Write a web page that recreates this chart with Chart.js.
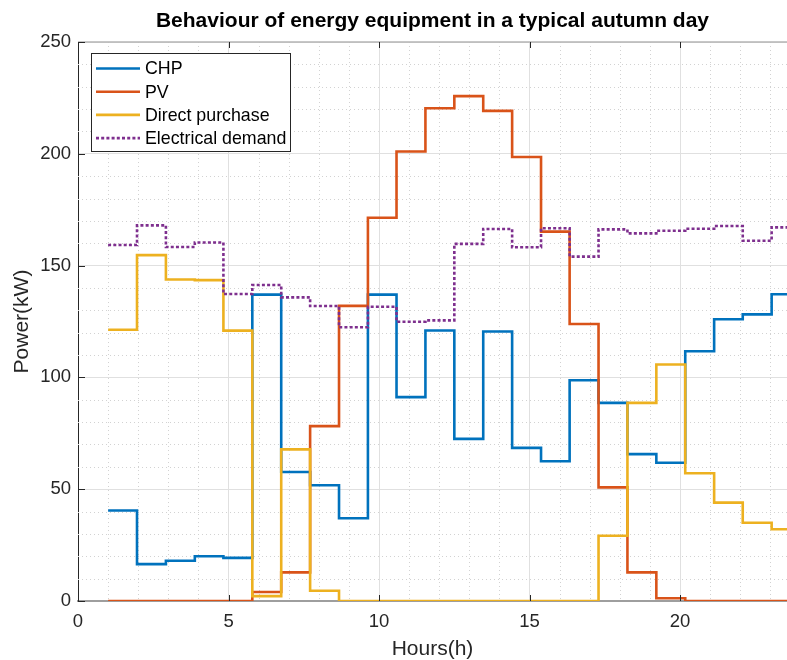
<!DOCTYPE html>
<html>
<head>
<meta charset="utf-8">
<script src="https://cdn.jsdelivr.net/npm/chart.js@4/dist/chart.umd.min.js"></script>
<style>
  html, body { margin: 0; padding: 0; background: #fff; }
  #wrap { width: 787px; height: 660px; }
</style>
</head>
<body>
<div id="wrap"><canvas id="chart" width="787" height="660"></canvas></div>
<script>
// step start times (h) - 24 intervals, last entry closes the final step
const hourStarts = [1, 1.96, 2.92, 3.88, 4.83, 5.79, 6.75, 7.71, 8.67, 9.63, 10.58, 11.54,
                    12.5, 13.46, 14.42, 15.38, 16.33, 17.29, 18.25, 19.21, 20.17, 21.13, 22.08, 23.04, 24];

// power values in kW, one per interval
const chp = [40.5, 16.5, 18, 20, 19.3, 137, 57.7, 51.8, 37, 137, 91.2, 121, 72.5, 120.5,
             68.5, 62.5, 98.7, 88.6, 65.7, 61.8, 111.7, 126, 128.2, 137.2];
const pv = [0, 0, 0, 0, 0, 4, 12.8, 78.2, 132, 171.4, 201, 220.4, 225.8, 219.2,
            198.6, 165.2, 123.9, 50.8, 12.8, 1.2, 0, 0, 0, 0];
const directPurchase = [121.3, 154.7, 143.8, 143.5, 120.9, 2.2, 67.8, 4.6, 0, 0, 0, 0, 0, 0,
                        0, 0, 0, 29.2, 88.6, 105.8, 57.1, 44, 35, 32.1];
const demand = [159.2, 168, 158.3, 160.3, 137.3, 141.3, 135.8, 131.9, 122.4, 131.6, 124.9, 125.5,
                159.7, 166.4, 158.2, 166.7, 154, 166.2, 164.4, 165.6, 166.5, 167.7, 161.1, 167.1];

const xTicks = [0, 5, 10, 15, 20];
const yTicks = [0, 50, 100, 150, 200, 250];

const FONT = 'Arial, "Liberation Sans", Helvetica, sans-serif';
const TXT = '#262626';

// stairs: value i is held from hourStarts[i] to hourStarts[i+1]
function stairs(vals) {
    return hourStarts.map((x, i) => ({ x: x, y: vals[Math.min(i, vals.length - 1)] }));
}

// minor dotted grid, top border, inward ticks and the legend box
const gridPlugin = {
    id: 'minorGrid',
    beforeDatasetsDraw(chart) {
        const { ctx, chartArea: a, scales: { x, y } } = chart;
        ctx.save();
        ctx.strokeStyle = '#d2d2d2';
        ctx.lineWidth = 1;
        ctx.setLineDash([1, 3]);
        for (let v = 1; v < x.max; v++) {
            if (v % 5 === 0) continue;
            const px = Math.round(x.getPixelForValue(v)) + 0.5;
            ctx.beginPath(); ctx.moveTo(px, a.top); ctx.lineTo(px, a.bottom); ctx.stroke();
        }
        for (let v = 10; v < 250; v += 10) {
            if (v % 50 === 0) continue;
            const py = Math.round(y.getPixelForValue(v)) + 0.5;
            ctx.beginPath(); ctx.moveTo(a.left, py); ctx.lineTo(a.right, py); ctx.stroke();
        }
        ctx.setLineDash([]);
        ctx.strokeStyle = '#b4b4b4';
        ctx.lineWidth = 1.5;
        ctx.beginPath(); ctx.moveTo(a.left, a.top); ctx.lineTo(a.right, a.top); ctx.stroke();
        ctx.restore();
    },
    afterDraw(chart) {
        const { ctx, chartArea: a, scales: { x, y } } = chart;
        ctx.save();
        ctx.strokeStyle = TXT;
        ctx.lineWidth = 1;
        xTicks.forEach(v => {
            const px = Math.round(x.getPixelForValue(v)) + 0.5;
            ctx.beginPath(); ctx.moveTo(px, a.bottom); ctx.lineTo(px, a.bottom - 6); ctx.stroke();
            ctx.beginPath(); ctx.moveTo(px, a.top); ctx.lineTo(px, a.top + 6); ctx.stroke();
        });
        yTicks.forEach(v => {
            const py = Math.round(y.getPixelForValue(v)) + 0.5;
            ctx.beginPath(); ctx.moveTo(a.left, py); ctx.lineTo(a.left + 7, py); ctx.stroke();
        });

        // legend
        const bx = 91.5, by = 53.5, bw = 199, bh = 98;
        ctx.fillStyle = '#fff';
        ctx.fillRect(bx, by, bw, bh);
        ctx.strokeStyle = '#262626';
        ctx.lineWidth = 1;
        ctx.strokeRect(bx, by, bw, bh);
        ctx.font = '17.8px ' + FONT;
        ctx.textBaseline = 'middle';
        ctx.fillStyle = '#000';
        chart.data.datasets.forEach((ds, i) => {
            const ry = 68.5 + i * 23.2;
            ctx.strokeStyle = ds.borderColor;
            ctx.lineWidth = ds.borderWidth;
            ctx.setLineDash(ds.borderDash || []);
            ctx.beginPath(); ctx.moveTo(96, ry); ctx.lineTo(140, ry); ctx.stroke();
            ctx.setLineDash([]);
            ctx.fillText(ds.label, 145, ry + 1);
        });
        ctx.restore();
    }
};

const lineBase = { stepped: 'before', pointRadius: 0, borderWidth: 2.6, fill: false, tension: 0 };

new Chart(document.getElementById('chart'), {
    type: 'line',
    data: {
        datasets: [
            Object.assign({ label: 'CHP', data: stairs(chp), borderColor: '#0072BD', order: 4 }, lineBase),
            Object.assign({ label: 'PV', data: stairs(pv), borderColor: '#D95319', order: 3 }, lineBase),
            Object.assign({ label: 'Direct purchase', data: stairs(directPurchase), borderColor: '#EDB120', order: 2 }, lineBase),
            Object.assign({ label: 'Electrical demand', data: stairs(demand), borderColor: '#7E2F8E', order: 1, borderDash: [3, 2.2] }, lineBase)
        ]
    },
    options: {
        responsive: false,
        animation: false,
        events: [],
        layout: { padding: 0 },
        plugins: {
            legend: { display: false },
            tooltip: { enabled: false },
            title: {
                display: true,
                text: 'Behaviour of energy equipment in a typical autumn day',
                fullSize: false,
                color: '#000',
                font: { family: FONT, size: 21, weight: 'bold', lineHeight: 1.2 },
                padding: { top: 9, bottom: 7.8 }
            }
        },
        scales: {
            x: {
                type: 'linear',
                min: 0,
                max: 23.55,
                afterFit: s => { s.height = 59; },
                ticks: { stepSize: 5, includeBounds: false, color: TXT, padding: 10,
                         font: { family: FONT, size: 18.5 }, maxRotation: 0 },
                grid: { color: '#e0e0e0', lineWidth: 1, drawTicks: false },
                border: { color: '#9e9e9e', width: 2 },
                title: { display: true, text: 'Hours(h)', color: TXT,
                         font: { family: FONT, size: 21, lineHeight: 1 }, padding: { top: 0, bottom: 0 } }
            },
            y: {
                min: 0,
                max: 250,
                afterFit: s => { s.width = 78; },
                ticks: { stepSize: 50, color: TXT, padding: 7, font: { family: FONT, size: 18.5 } },
                grid: { color: '#e0e0e0', lineWidth: 1, drawTicks: false },
                border: { color: TXT, width: 1 },
                title: { display: true, text: 'Power(kW)', color: TXT,
                         font: { family: FONT, size: 21, lineHeight: 1 }, padding: { top: 11.5, bottom: 0 } }
            }
        }
    },
    plugins: [gridPlugin]
});
</script>
</body>
</html>
